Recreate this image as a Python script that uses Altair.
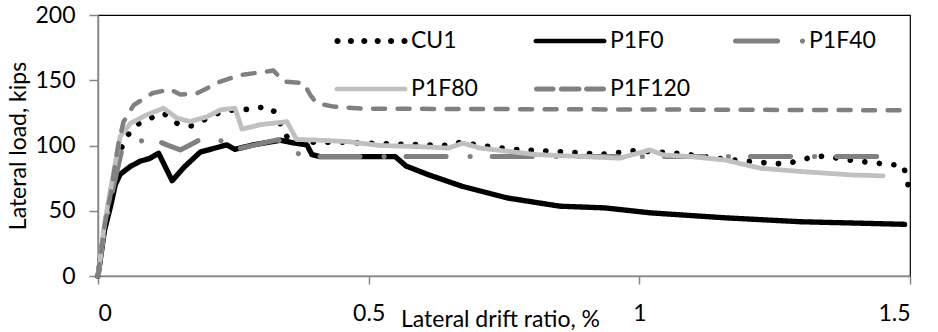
import altair as alt
import pandas as pd

series_names = ["CU1", "P1F0", "P1F40", "P1F80", "P1F120"]

cu1_x = [0, 0.012, 0.025, 0.04, 0.053, 0.072, 0.097, 0.121, 0.146, 0.173, 0.198, 0.226, 0.253, 0.284,
         0.312, 0.33, 0.34, 0.355, 0.40, 0.45, 0.55, 0.65, 0.669, 0.70, 0.761, 0.847, 0.933, 0.992,
         1.053, 1.08, 1.17, 1.198, 1.228, 1.258, 1.287, 1.315, 1.343, 1.372, 1.40, 1.429, 1.459,
         1.488, 1.495, 1.5]
cu1_y = [0, 38, 68, 95, 107, 116, 121, 124.8, 117, 115, 120, 125.5, 127.5, 127.8,
         130, 124.8, 112.5, 103, 102.5, 102.5, 101, 100, 102.5, 100.5, 97.2, 95.4, 93.3, 96.1,
         94.6, 93.6, 89, 88, 86.9, 86.1, 87.4, 90.7, 92, 89.7, 88.2, 86.9, 85.6,
         84.6, 72.9, 62]

p1f0_x = [0, 0.012, 0.023, 0.032, 0.041, 0.06, 0.078, 0.095, 0.112, 0.137, 0.158, 0.189, 0.207,
          0.238, 0.253, 0.287, 0.337, 0.361, 0.386, 0.395, 0.41, 0.549, 0.569, 0.611, 0.673,
          0.756, 0.853, 0.936, 1.02, 1.158, 1.297, 1.49]
p1f0_y = [0, 35, 53, 70, 78, 84, 88, 90, 94, 73, 83, 95, 97,
          100.5, 97, 100.5, 104, 102, 100.5, 93, 91.5, 91.5, 84.3, 77.5, 68.7,
          59.8, 53.5, 52.2, 48.4, 44.6, 41.6, 39.6]

p1f40_x = [0, 0.012, 0.025, 0.044, 0.057, 0.095, 0.127, 0.152, 0.176, 0.195, 0.229, 0.253, 0.29,
           0.333, 0.356, 0.39, 1.48]
p1f40_y = [0, 36, 62, 96.6, 99, 106.4, 100.5, 96.6, 101.8, 106, 103.5, 97, 100.5,
           104.5, 95.3, 91.5, 91.5]

p1f80_x = [0, 0.012, 0.023, 0.041, 0.06, 0.09, 0.121, 0.146, 0.17, 0.201, 0.226, 0.253, 0.266,
           0.30, 0.349, 0.367, 0.398, 0.46, 0.521, 0.60, 0.647, 0.674, 0.706, 0.81, 0.964, 1.02,
           1.044, 1.094, 1.158, 1.223, 1.30, 1.394, 1.45]
p1f80_y = [0, 40, 66, 107, 117, 123.5, 128.6, 121, 118.3, 122, 127.3, 128.6, 112.5,
           116, 118.3, 104.5, 104.3, 103, 100, 99, 98, 101.8, 98, 93, 90.3, 96.6,
           92.8, 91.5, 88.9, 82.6, 80, 77.4, 76.7]

p1f120_x = [0, 0.012, 0.023, 0.038, 0.047, 0.066, 0.10, 0.133, 0.152, 0.183, 0.226, 0.263, 0.312,
            0.324, 0.343, 0.38, 0.392, 0.404, 0.435, 0.49, 1.49]
p1f120_y = [0, 38, 62, 102, 118, 131, 140, 143, 139, 140, 149, 154, 156.7,
            157.5, 149, 147.8, 138.8, 132.4, 129.8, 128.2, 127]

x_ticks = [0, 0.5, 1, 1.5]
y_ticks = [0, 50, 100, 150, 200]

colors = ["#000000", "#000000", "#808080", "#c0c0c0", "#808080"]
dashes = [[0.1, 14.5], [1, 0], [40, 24, 0.1, 22], [1, 0], [12, 12.5]]
widths = [5.6, 4.5, 4.8, 4.8, 4.8]


# ---- legend symbol shapes (unit square -1..1, scaled by sqrt(size)/2) ----
def pill(x0, x1, h):
    return (f"M{x0:.3f},{-h:.3f}L{x1:.3f},{-h:.3f}A{h:.3f},{h:.3f} 0 0,1 {x1:.3f},{h:.3f}"
            f"L{x0:.3f},{h:.3f}A{h:.3f},{h:.3f} 0 0,1 {x0:.3f},{-h:.3f}Z")


def dot(cx, r):
    return (f"M{cx - r:.3f},0A{r:.3f},{r:.3f} 0 1,0 {cx + r:.3f},0"
            f"A{r:.3f},{r:.3f} 0 1,0 {cx - r:.3f},0Z")


shape_cu1 = "".join(dot(c, 0.085) for c in [-0.93, -0.558, -0.186, 0.186, 0.558, 0.93])
shape_solid = pill(-0.95, 0.95, 0.064)
shape_p1f40 = pill(-0.93, 0.24, 0.07) + dot(0.93, 0.072)
shape_p1f120 = pill(-0.93, -0.47, 0.07) + pill(-0.24, 0.25, 0.07) + pill(0.46, 0.93, 0.07)
shapes = [shape_cu1, shape_solid, shape_p1f40, shape_solid, shape_p1f120]

rows = []
for k, (name, xs, ys) in enumerate(zip(series_names,
                                       [cu1_x, p1f0_x, p1f40_x, p1f80_x, p1f120_x],
                                       [cu1_y, p1f0_y, p1f40_y, p1f80_y, p1f120_y])):
    for i, (xv, yv) in enumerate(zip(xs, ys)):
        rows.append({"series": name, "sid": k, "drift": xv, "load": yv, "order": i})
df = pd.DataFrame(rows)
sid_domain = list(range(len(series_names)))

FONT = "Lato"
W, H = 812, 261

x_enc = alt.X("drift:Q", scale=alt.Scale(domain=[0, 1.5], nice=False),
              axis=alt.Axis(values=x_ticks, format="~g", title="Lateral drift ratio, %",
                            grid=False, tickSize=8, labelPadding=18,
                            titleX=W / 2 - 4, titleY=50, titleBaseline="alphabetic"))
y_enc = alt.Y("load:Q", scale=alt.Scale(domain=[0, 200], nice=False),
              axis=alt.Axis(values=y_ticks, title="Lateral load, kips", grid=False,
                            tickSize=9, labelPadding=14,
                            titleX=-80, titleY=H / 2, titleBaseline="middle"))

lines = alt.Chart(df).mark_line(strokeCap="round", strokeJoin="round").encode(
    x=x_enc, y=y_enc,
    stroke=alt.Stroke("sid:N", scale=alt.Scale(domain=sid_domain, range=colors), legend=None),
    strokeDash=alt.StrokeDash("sid:N", scale=alt.Scale(domain=sid_domain, range=dashes), legend=None),
    strokeWidth=alt.StrokeWidth("sid:N", scale=alt.Scale(domain=sid_domain, range=widths), legend=None),
    order=alt.Order("order:Q"),
)

leg = alt.Legend(
    title=None, orient="none", legendX=237, legendY=-10, columns=3, direction="horizontal",
    gridAlign="all",
    symbolSize=5184, symbolStrokeWidth=0, symbolOpacity=1,
    labelFont=FONT, labelFontSize=23, labelColor="#000000", labelOffset=4,
    columnPadding=41, rowPadding=-7, padding=0,
)

legend_layer = alt.Chart(df).transform_filter("datum.load < 0").mark_point(
    filled=True, opacity=1, strokeWidth=0
).encode(
    x=x_enc, y=y_enc,
    color=alt.Color("series:N", scale=alt.Scale(domain=series_names, range=colors), legend=leg),
    shape=alt.Shape("series:N", scale=alt.Scale(domain=series_names, range=shapes), legend=leg),
)

chart = alt.layer(lines, legend_layer).properties(
    width=W, height=H,
    autosize=alt.AutoSizeParams(type="none"),
    padding={"left": 98, "top": 15, "right": 28, "bottom": 56},
    background="white",
).configure_view(
    stroke="#000000", strokeWidth=1.2,
).configure_axis(
    domainColor="#868686", domainWidth=1.5, tickColor="#868686", tickWidth=1.5,
    labelFont=FONT, labelFontSize=23, labelColor="#000000",
    titleFont=FONT, titleFontSize=23, titleColor="#000000", titleFontWeight="normal",
)

chart.save("out.html", embed_options={"renderer": "svg", "actions": False})
